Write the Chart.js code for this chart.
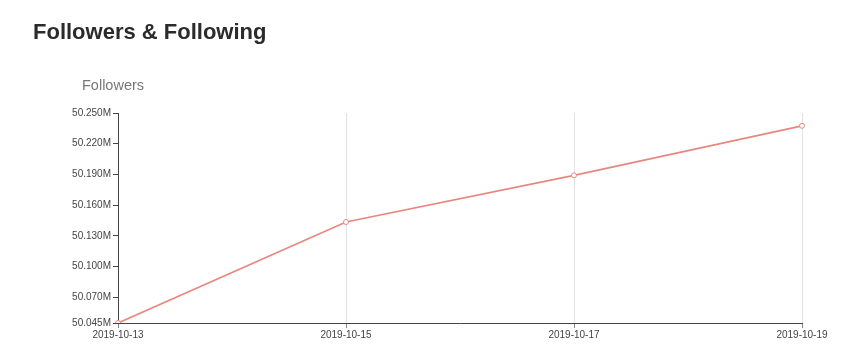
<!DOCTYPE html>
<html>
<head>
<meta charset="utf-8">
<script src="https://cdn.jsdelivr.net/npm/chart.js@4/dist/chart.umd.min.js"></script>
<style>
  body { margin: 0; background: #fff; font-family: "Liberation Sans", Arial, sans-serif; }
  #wrap { position: relative; width: 854px; height: 359px; }
  #wrap canvas { position: absolute; left: 0; top: 0; }
  h2 { position: absolute; left: 33px; top: 19px; margin: 0; font-size: 22px; font-weight: bold; color: #2b2b2b; }
  .sub { position: absolute; left: 82px; top: 77px; font-size: 14.5px; color: #777; }
</style>
</head>
<body>
<div id="wrap">
  <canvas id="followers" width="854" height="359"></canvas>
  <h2>Followers &amp; Following</h2>
  <div class="sub">Followers</div>
</div>
<script>
var dates = ['2019-10-13', '2019-10-15', '2019-10-17', '2019-10-19'];
var followers = [50045000, 50143600, 50189100, 50237500];
var yTicks = [50045000, 50070000, 50100000, 50130000, 50160000, 50190000, 50220000, 50250000];

var ctx = document.getElementById('followers').getContext('2d');
var chart = new Chart(ctx, {
  type: 'line',
  data: {
    labels: dates,
    datasets: [{
      label: 'Followers',
      data: followers,
      borderColor: '#e8877f',
      borderWidth: 1.7,
      backgroundColor: '#fff',
      pointBackgroundColor: '#fff',
      pointBorderColor: '#e8877f',
      pointBorderWidth: 1,
      pointRadius: 2.5,
      tension: 0,
      fill: false
    }]
  },
  options: {
    responsive: false,
    animation: false,
    layout: { padding: { left: 60, top: 113, right: 52, bottom: 16 } },
    plugins: { legend: { display: false }, tooltip: { enabled: false } },
    scales: {
      x: {
        offset: false,
        grid: { color: '#e2e2e2', tickColor: '#888', tickLength: 5, lineWidth: 1 },
        border: { color: '#444', width: 1 },
        ticks: { color: '#444', font: { size: 10, family: 'Liberation Sans' }, padding: 1, maxRotation: 0, autoSkip: false },
        afterFit: function (s) { s.height = 20; }
      },
      y: {
        min: yTicks[0],
        max: yTicks[yTicks.length - 1],
        grid: { drawOnChartArea: false, tickColor: '#444', tickLength: 5 },
        border: { color: '#444', width: 1 },
        ticks: {
          color: '#444',
          font: { size: 10, family: 'Liberation Sans' },
          padding: 2,
          callback: function (v) { return (v / 1e6).toFixed(3) + 'M'; }
        },
        afterBuildTicks: function (s) { s.ticks = yTicks.map(function (v) { return { value: v }; }); },
        afterFit: function (s) { s.width = 58; }
      }
    }
  }
});
</script>
</body>
</html>
